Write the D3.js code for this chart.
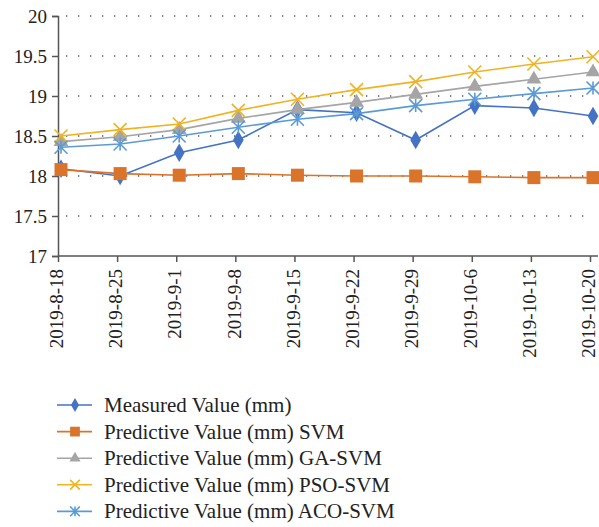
<!DOCTYPE html>
<html><head><meta charset="utf-8">
<script src="https://cdn.jsdelivr.net/npm/d3@7"></script>
<style>body{margin:0;background:#fff}svg{display:block}</style>
</head><body><svg id="c" width="599" height="527"></svg>
<script>
const dates = ["2019-8-18","2019-8-25","2019-9-1","2019-9-8","2019-9-15","2019-9-22","2019-9-29","2019-10-6","2019-10-13","2019-10-20"];
const measured = [18.09,18.0,18.29,18.45,18.83,18.79,18.45,18.88,18.85,18.75];
const svm = [18.08,18.03,18.01,18.03,18.01,18.0,18.0,17.99,17.98,17.98];
const gaSvm = [18.43,18.49,18.58,18.72,18.83,18.92,19.02,19.12,19.21,19.30];
const psoSvm = [18.5,18.58,18.65,18.82,18.96,19.08,19.18,19.30,19.40,19.49];
const acoSvm = [18.36,18.40,18.5,18.61,18.71,18.78,18.88,18.96,19.03,19.10];
const yTicks = [17,17.5,18,18.5,19,19.5,20];
const seriesNames = ["Measured Value (mm)","Predictive Value (mm) SVM","Predictive Value (mm) GA-SVM","Predictive Value (mm) PSO-SVM","Predictive Value (mm) ACO-SVM"];

const FONT = "'Liberation Serif', 'Times New Roman', serif";
const series = [
  {name:seriesNames[0], values:measured, color:"#4472C4", marker:"diamond"},
  {name:seriesNames[1], values:svm, color:"#D9742A", marker:"square"},
  {name:seriesNames[2], values:gaSvm, color:"#A5A5A5", marker:"triangle"},
  {name:seriesNames[3], values:psoSvm, color:"#F0B321", marker:"x"},
  {name:seriesNames[4], values:acoSvm, color:"#5B9BD5", marker:"star"}
];

const svg = d3.select("#c").attr("font-family",FONT);
const x = d3.scalePoint().domain(dates).range([61, 593]);
const y = d3.scaleLinear().domain([17,20]).range([256, 16]);

// gridlines
svg.append("g").selectAll("line").data(yTicks.filter(d=>d>17)).join("line")
  .attr("x1",66).attr("x2",592).attr("y1",d=>y(d)).attr("y2",d=>y(d))
  .attr("stroke","#555").attr("stroke-width",1.3).attr("stroke-dasharray","1.3,10.7");

// y axis
const yAxis = svg.append("g").attr("transform","translate(58,0)")
  .call(d3.axisLeft(y).tickValues(yTicks).tickSize(6).tickPadding(5).tickFormat(d3.format("")));
yAxis.attr("font-family",FONT);
yAxis.select(".domain").attr("stroke","#555").attr("stroke-width",1.5);
yAxis.selectAll(".tick line").attr("stroke","#555").attr("stroke-width",1.5);
yAxis.selectAll("text").attr("font-size",19).attr("fill","#222").attr("font-family",FONT);

// x axis
const xAxis = svg.append("g").attr("transform","translate(-3,256)")
  .call(d3.axisBottom(x).tickSize(6).tickPadding(4).tickSizeOuter(0));
xAxis.attr("font-family",FONT);
xAxis.select(".domain").attr("d","M61,0H601").attr("stroke","#555").attr("stroke-width",1.5);
xAxis.selectAll(".tick line").attr("stroke","#555").attr("stroke-width",1.5);
xAxis.selectAll("text").attr("font-size",19).attr("fill","#222").attr("font-family",FONT)
  .attr("transform","rotate(-90)").attr("text-anchor","end")
  .attr("x",-13).attr("y",0).attr("dy","0.25em");

function drawMarker(g, type, color, cx, cy, s){
  s = s||1;
  if(type==="diamond"){
    g.append("path").attr("d",d3.symbol(d3.symbolDiamond, 100*s*s)()).attr("transform",`translate(${cx},${cy})`).attr("fill",color);
  } else if(type==="square"){
    const w=13*s; g.append("rect").attr("x",cx-w/2).attr("y",cy-w/2).attr("width",w).attr("height",w).attr("fill",color);
  } else if(type==="triangle"){
    g.append("path").attr("d",d3.symbol(d3.symbolTriangle, 95*s*s)()).attr("transform",`translate(${cx},${cy})`).attr("fill",color);
  } else if(type==="x"){
    const r=6.5*s; g.append("path").attr("d",`M${cx-r},${cy-r}L${cx+r},${cy+r}M${cx-r},${cy+r}L${cx+r},${cy-r}`).attr("stroke",color).attr("stroke-width",1.6).attr("fill","none");
  } else if(type==="star"){
    const r=6.5*s; g.append("path").attr("d",`M${cx-r},${cy-r}L${cx+r},${cy+r}M${cx-r},${cy+r}L${cx+r},${cy-r}M${cx},${cy-r}L${cx},${cy+r}`).attr("stroke",color).attr("stroke-width",1.6).attr("fill","none");
  }
}

const line = d3.line().x((d,i)=>x(dates[i])).y(d=>y(d));
series.forEach(s=>{
  const g = svg.append("g");
  g.append("path").attr("d",line(s.values)).attr("fill","none").attr("stroke",s.color).attr("stroke-width",1.6);
  s.values.forEach((v,i)=>drawMarker(g,s.marker,s.color,x(dates[i]),y(v)));
});

// legend
const lg = svg.append("g");
series.forEach((s,i)=>{
  const ly = 405 + i*26.6;
  lg.append("line").attr("x1",57).attr("x2",92).attr("y1",ly).attr("y2",ly).attr("stroke",s.color).attr("stroke-width",1.6);
  drawMarker(lg,s.marker,s.color,75,ly,0.75);
  lg.append("text").attr("x",104).attr("y",ly).attr("dy","0.33em").attr("font-size",21).attr("fill","#222").attr("font-family",FONT).text(s.name);
});
</script></body></html>
